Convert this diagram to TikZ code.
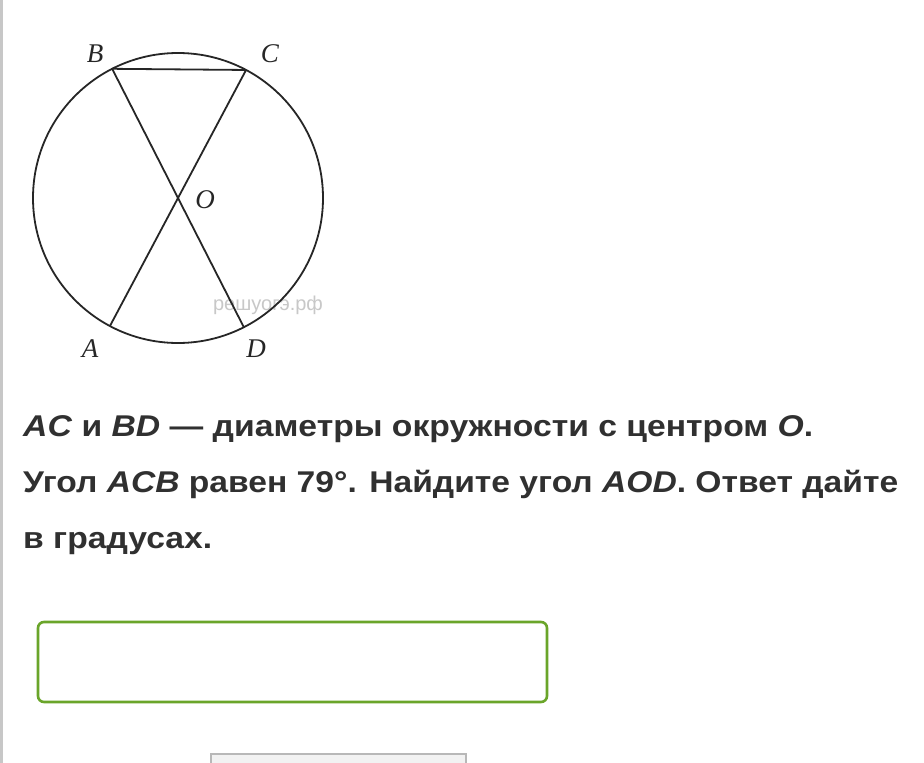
\documentclass[tikz,border=0pt]{standalone}
\usepackage{fontspec}
\setmainfont{Liberation Sans}
\newfontfamily\geomfont{Liberation Serif}
\usepackage{graphicx}
\definecolor{txt}{HTML}{303030}
\definecolor{boxgreen}{HTML}{6AA52A}
\definecolor{wmark}{HTML}{C8C8C8}
\tikzset{
  geo/.style={line width=1.8pt, black!85},
  ptlabel/.style={font=\geomfont\itshape\fontsize{27}{30}\selectfont, inner sep=0pt, text=black!85},
  qline/.style={anchor=base west, inner sep=0pt, text=txt, font=\bfseries\fontsize{30}{34}\selectfont}
}
\begin{document}
\begin{tikzpicture}[x=1pt, y=-1pt]
\useasboundingbox (0,0) rectangle (924,763);
\fill[white] (0,0) rectangle (924,763);
\fill[black!22] (0,0) rectangle (3,763);
% circle figure
\coordinate (O) at (178,198);
\coordinate (B) at ([shift={(-117:145)}]O);
\coordinate (C) at ([shift={(-62:145)}]O);
\coordinate (A) at ([shift={(-62+180:145)}]O);
\coordinate (D) at ([shift={(-117+180:145)}]O);
\node[font=\fontsize{20}{20}\selectfont, text=wmark, inner sep=0pt] (wm) at (268,305) {решуогэ.рф};
\draw[geo] (O) circle[radius=145];
\draw[geo] (B) -- (C);
\draw[geo] (A) -- (C);
\draw[geo] (B) -- (D);
\node[ptlabel] (lB) at (95,54) {B};
\node[ptlabel] (lC) at (270,54) {C};
\node[ptlabel] (lO) at (205,200) {O};
\node[ptlabel] (lA) at (90,349) {A};
\node[ptlabel] (lD) at (256,349) {D};
% question text
\node[qline] (l1) at (23,436) {\resizebox{790pt}{\height}{\textit{AC} и \textit{BD} — диаметры окружности с центром \textit{O}.}};
\node[qline] (l2) at (23,492) {\resizebox{875pt}{\height}{Угол \textit{ACB} равен 79°. Найдите угол \textit{AOD}. Ответ дайте}};
\node[qline] (l3) at (23,548) {\resizebox{189pt}{\height}{в градусах.}};
% answer box
\draw[boxgreen, line width=2.6pt, rounded corners=6pt] (38,622) rectangle (547,702);
% partial button
\draw[black!28, line width=2pt, fill=black!5] (211,754) rectangle (466,775);
\end{tikzpicture}
\end{document}
